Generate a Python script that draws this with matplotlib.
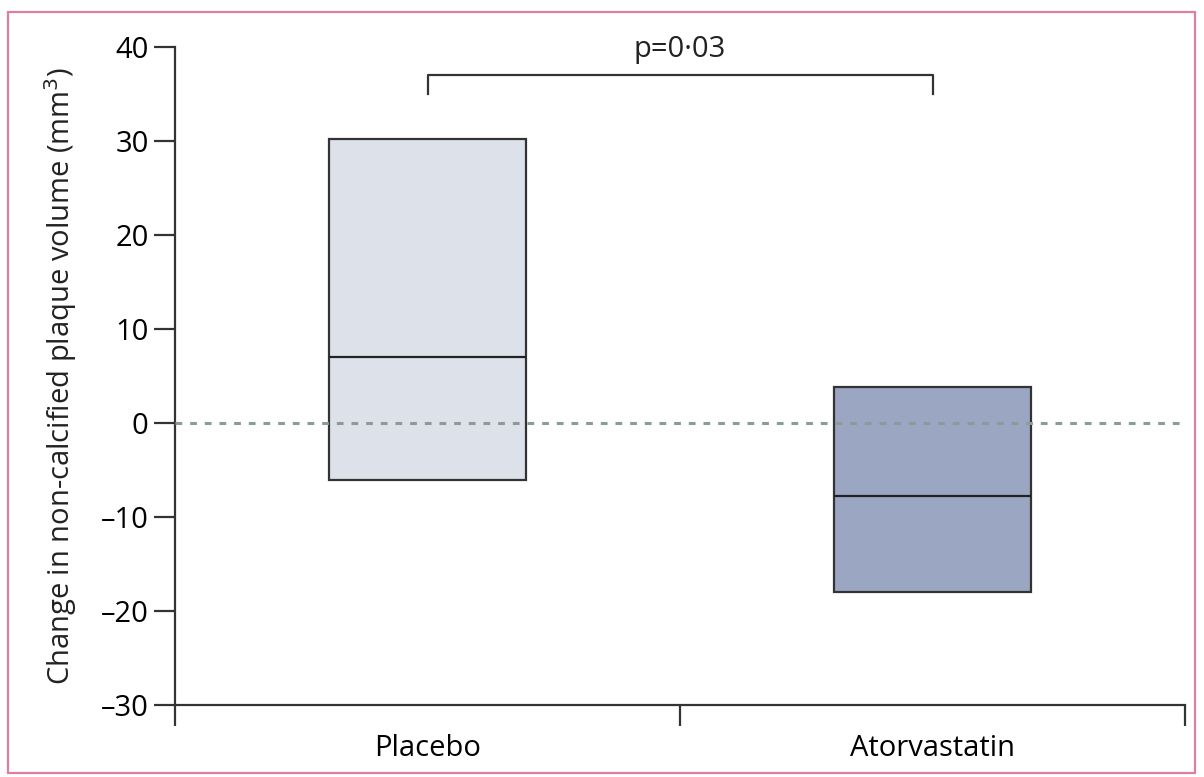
import matplotlib
matplotlib.use("Agg")
import matplotlib.pyplot as plt
from matplotlib.patches import Rectangle

plt.rcParams['font.family'] = ['Open Sans', 'DejaVu Sans']

# Data
groups = ["Placebo", "Atorvastatin"]
q1 = [-6.1, -18.0]
median = [7.0, -7.8]
q3 = [30.2, 3.8]
fill_colors = ["#dde1ea", "#9ba6c2"]
y_ticks = [-30, -20, -10, 0, 10, 20, 30, 40]
p_label = "p=0·03"
bracket_y = 37.0
bracket_leg = 2.0

FS = 21

fig = plt.figure(figsize=(12.04, 7.77), dpi=100)
ax = fig.add_axes([175/1204, 1 - 705/777, (1185-175)/1204, (705-47)/777])

# Figure frame
fig.patches.append(Rectangle((8/1204, 4/777), (1195-8)/1204, (769-8)/777,
                             transform=fig.transFigure, fill=False,
                             edgecolor="#e07f9c", linewidth=1.6))

centers = [0.5, 1.5]
width = 0.39
for c, lo, md, hi, col in zip(centers, q1, median, q3, fill_colors):
    ax.bar(c, hi - lo, bottom=lo, width=width, color=col,
           edgecolor="#333333", linewidth=1.6, zorder=2)
    ax.hlines(md, c - width/2, c + width/2, color="#222222", linewidth=1.6, zorder=3)

# Zero reference line, drawn over the boxes
ax.axhline(0, color="#8a9b99", linestyle=(0, (2.2, 2.6)), linewidth=2.2, zorder=4)

# Significance bracket
ax.plot([centers[0], centers[0], centers[1], centers[1]],
        [bracket_y - bracket_leg, bracket_y, bracket_y, bracket_y - bracket_leg],
        color="#333333", linewidth=1.6, clip_on=False)
ax.text(sum(centers)/2, bracket_y + 1.2, p_label, ha="center", va="bottom",
        fontsize=FS, color="#222222")

ax.set_xlim(0, 2)
ax.set_ylim(-30, 40)
ax.set_yticks(y_ticks)
ax.set_yticklabels([str(v).replace("-", "\u2013") for v in y_ticks])
ax.set_xticks([0, 1, 2])
ax.set_xticklabels([])
ax.set_xticks(centers, minor=True)
ax.set_xticklabels(groups, minor=True)
ax.tick_params(axis="x", which="minor", length=0, pad=21, labelsize=FS)
ax.tick_params(axis="x", which="major", direction="out", length=15, width=1.6, color="#333333")
ax.tick_params(axis="y", direction="out", length=15, width=1.6, color="#333333",
               labelsize=FS, pad=4)

for s in ["top", "right"]:
    ax.spines[s].set_visible(False)
for s in ["left", "bottom"]:
    ax.spines[s].set_linewidth(1.6)
    ax.spines[s].set_color("#333333")

ax.set_ylabel("Change in non-calcified plaque volume (mm$^3$)", fontsize=FS,
              color="#222222", labelpad=16)

fig.savefig("out.png", dpi=100)
